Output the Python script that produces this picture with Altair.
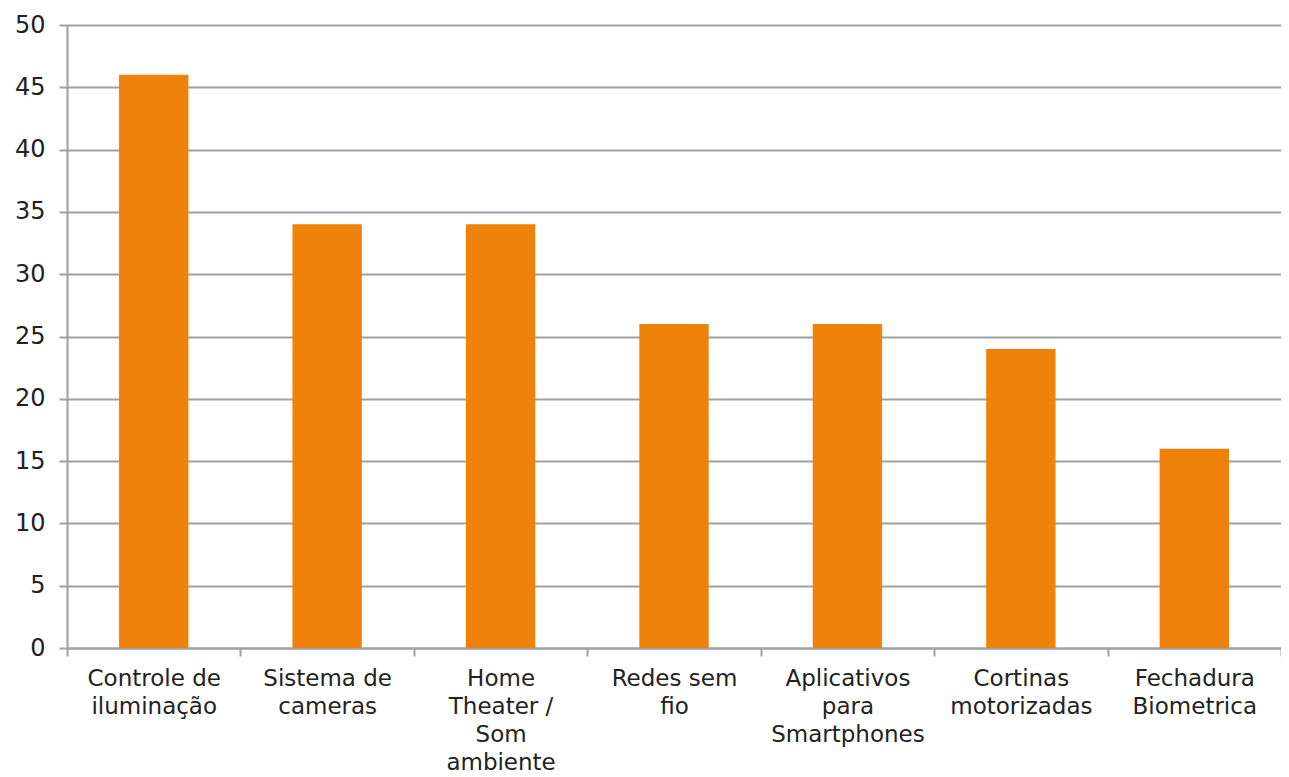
import json
import altair as alt
import pandas as pd

label_lines = [
    ["Controle de", "iluminação"],
    ["Sistema de", "cameras"],
    ["Home", "Theater /", "Som", "ambiente"],
    ["Redes sem", "fio"],
    ["Aplicativos", "para", "Smartphones"],
    ["Cortinas", "motorizadas"],
    ["Fechadura", "Biometrica"],
]
values = [46, 34, 34, 26, 26, 24, 16]
y_ticks = [0, 5, 10, 15, 20, 25, 30, 35, 40, 45, 50]

categories = [" ".join(l) for l in label_lines]
df = pd.DataFrame({"categoria": categories, "valor": values})
label_map = {c: l for c, l in zip(categories, label_lines)}
label_expr = json.dumps(label_map, ensure_ascii=False) + "[datum.label]"

GRAY = "#A0A0A0"
TEXT = "#222222"
FONT = "DejaVu Sans"

chart = alt.Chart(df).mark_bar(color="#EF820A", width=alt.RelativeBandSize(0.4)).encode(
    x=alt.X(
        "categoria:N",
        sort=None,
        title=None,
        scale=alt.Scale(paddingInner=0, paddingOuter=0),
        axis=alt.Axis(
            labelAngle=0,
            labelExpr=label_expr,
            tickBand="extent",
            tickSize=8,
            tickWidth=2,
            tickColor=GRAY,
            domainColor=GRAY,
            domainWidth=2,
            labelFont=FONT,
            labelFontSize=23,
            labelColor=TEXT,
            labelLineHeight=28,
            labelBaseline="top",
            labelPadding=11,
            labelLimit=0,
            grid=False,
        ),
    ),
    y=alt.Y(
        "valor:Q",
        title=None,
        scale=alt.Scale(domain=[0, 50], nice=False),
        axis=alt.Axis(
            values=y_ticks,
            tickSize=8,
            tickWidth=2,
            tickColor=GRAY,
            domainColor=GRAY,
            domainWidth=2,
            grid=True,
            gridColor=GRAY,
            gridWidth=2,
            labelFont=FONT,
            labelFontSize=24,
            labelColor=TEXT,
            labelPadding=14,
        ),
    ),
).properties(
    width=1214,
    height=623,
    autosize="none",
    padding={"top": 17, "left": 59, "right": 0, "bottom": 130},
).configure_view(stroke=None)

chart.save("out.html", embed_options={"renderer": "svg", "actions": False})
